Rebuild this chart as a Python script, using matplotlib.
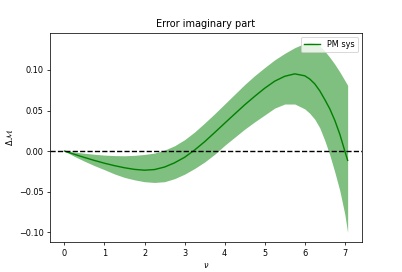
import matplotlib
matplotlib.use("Agg")
import matplotlib.pyplot as plt

plt.rcParams["font.size"] = 8.7

nu = [0.0, 0.25, 0.5, 0.75, 1.0, 1.25, 1.5, 1.75, 2.0, 2.25, 2.5, 2.75, 3.0, 3.25,
      3.5, 3.75, 4.0, 4.25, 4.5, 4.75, 5.0, 5.25, 5.5, 5.75, 6.0, 6.125, 6.25, 6.375,
      6.5, 6.625, 6.75, 6.875, 7.0, 7.07]
center = [0.0, -0.0040, -0.0079, -0.0116, -0.0150, -0.0180, -0.0206, -0.0226, -0.0236,
          -0.0228, -0.0197, -0.0145, -0.0077, 0.0013, 0.0115, 0.0228, 0.0343, 0.0457,
          0.0570, 0.0675, 0.0775, 0.0862, 0.0922, 0.0952, 0.0928, 0.0888, 0.0828,
          0.0742, 0.0635, 0.0520, 0.0378, 0.0207, 0.0, -0.0115]
lower = [0.0, -0.0066, -0.0125, -0.0180, -0.0230, -0.0282, -0.0325, -0.0355, -0.0378,
         -0.0387, -0.0378, -0.0340, -0.0285, -0.0215, -0.0135, -0.0040, 0.0070, 0.0170,
         0.0270, 0.0360, 0.0445, 0.0530, 0.0580, 0.0580, 0.0520, 0.0465, 0.0392, 0.0285,
         0.0130, -0.0050, -0.0260, -0.0490, -0.0780, -0.1005]
upper = [0.0, -0.0013, -0.0027, -0.0040, -0.0050, -0.0056, -0.0058, -0.0053, -0.0042,
         -0.0025, 0.0012, 0.0065, 0.0140, 0.0235, 0.0345, 0.0460, 0.0580, 0.0700,
         0.0820, 0.0930, 0.1030, 0.1125, 0.1205, 0.1275, 0.1328, 0.1343, 0.1332,
         0.1297, 0.1232, 0.1155, 0.1070, 0.0975, 0.0870, 0.0810]

fig, ax = plt.subplots(figsize=(6.0, 4.06), dpi=67)
ax.fill_between(nu, lower, upper, color="green", alpha=0.5, linewidth=0)
ax.plot(nu, center, color="green", label="PM sys")
ax.axhline(0, color="black", linestyle="--")
ax.set_title("Error imaginary part")
ax.set_xlabel(r"$\nu$")
ax.set_ylabel(r"$\Delta\,\mathcal{M}$")
ax.legend(loc="upper right")
fig.savefig("out.png", dpi=67)
